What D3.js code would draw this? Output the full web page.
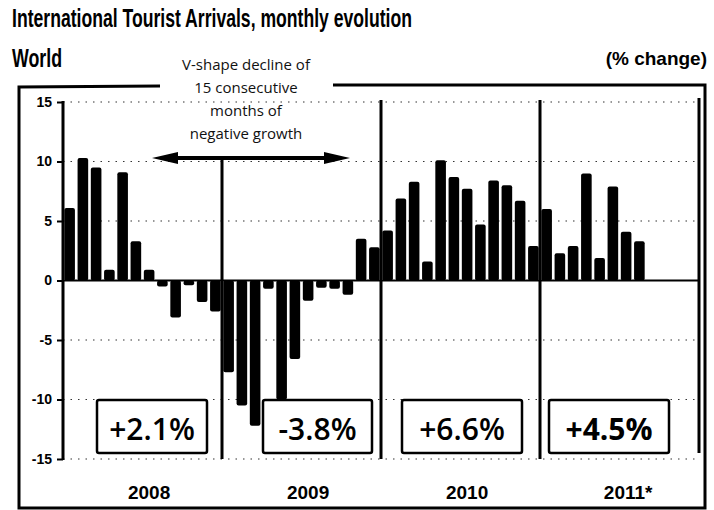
<!DOCTYPE html>
<html><head><meta charset="utf-8">
<script src="https://cdn.jsdelivr.net/npm/d3@7"></script>
<style>body{margin:0;background:#fff}svg{display:block}</style>
</head><body>
<script>
// ---- data ----
const years = ["2008", "2009", "2010", "2011*"];
const values2008 = [6.1, 10.3, 9.5, 0.9, 9.1, 3.3, 0.9, -0.5, -3.1, -0.4, -1.8, -2.6];
const values2009 = [-7.7, -10.5, -12.2, -0.7, -10.0, -6.6, -1.7, -0.6, -0.7, -1.2, 3.5, 2.8];
const values2010 = [4.2, 6.9, 8.3, 1.6, 10.1, 8.7, 7.7, 4.7, 8.4, 8.0, 6.7, 2.9];
const values2011 = [6.0, 2.3, 2.9, 9.0, 1.9, 7.9, 4.1, 3.3];
const yearTotals = ["+2.1%", "-3.8%", "+6.6%", "+4.5%"];
const yTicks = [15, 10, 5, 0, -5, -10, -15];
const annotationLines = ["V-shape decline of", "15 consecutive", "months of", "negative growth"];
const title = "International Tourist Arrivals, monthly evolution";
const subtitleLeft = "World";
const subtitleRight = "(% change)";

// ---- layout ----
const W = 714, H = 510;
const months = d3.range(48);
const series = [values2008, values2009, values2010, values2011];
const bars = [];
series.forEach((arr, yi) => arr.forEach((v, m) => bars.push({i: yi * 12 + m, v})));

const svg = d3.select("body").append("svg").attr("width", W).attr("height", H);

const x = d3.scaleBand().domain(months).range([63, 699]).paddingInner(0.2).paddingOuter(0.1);
const y = d3.scaleLinear().domain([-15, 15]).range([459, 102]);
const step = x.step();
const yearStart = k => 63 + k * 12 * step;

// titles
const narrow = "'Liberation Sans Narrow','Liberation Sans',Arial,sans-serif";
svg.append("text").attr("x", 12).attr("y", 27).text(title)
  .attr("font-family", narrow).attr("font-weight", "bold").attr("font-size", 25)
  .attr("textLength", 400).attr("lengthAdjust", "spacingAndGlyphs");
svg.append("text").attr("x", 12).attr("y", 67).text(subtitleLeft)
  .attr("font-family", narrow).attr("font-weight", "bold").attr("font-size", 25)
  .attr("textLength", 50).attr("lengthAdjust", "spacingAndGlyphs");
svg.append("text").attr("x", 707).attr("y", 65).attr("text-anchor", "end").text(subtitleRight)
  .attr("font-family", narrow).attr("font-weight", "bold").attr("font-size", 19);

// outer frame
svg.append("path")
  .attr("d", "M160,86 L19,87 L19,508 L705,508 L705,85 L333,85")
  .attr("fill", "none").attr("stroke", "#000").attr("stroke-width", 3);

// annotation text
svg.append("g").selectAll("text").data(annotationLines).join("text")
  .attr("x", 246).attr("y", (d, i) => 70 + i * 23)
  .attr("text-anchor", "middle")
  .attr("font-family", "'Open Sans',Lato,sans-serif").attr("font-size", 15)
  .attr("fill", "#111").text(d => d);

// gridlines (dotted)
svg.append("g").selectAll("line").data(yTicks.filter(d => d !== 0)).join("line")
  .attr("x1", 63).attr("x2", 699).attr("y1", d => y(d)).attr("y2", d => y(d))
  .attr("stroke", "#333").attr("stroke-width", 1.2).attr("stroke-dasharray", "1.5,6");

// bars
svg.append("g").selectAll("rect").data(bars).join("rect")
  .attr("x", d => x(d.i)).attr("width", x.bandwidth())
  .attr("y", d => y(Math.max(0, d.v))).attr("height", d => Math.abs(y(d.v) - y(0)))
  .attr("rx", 2).attr("fill", "#000");

// zero line
svg.append("line").attr("x1", 63).attr("x2", 699).attr("y1", y(0)).attr("y2", y(0))
  .attr("stroke", "#000").attr("stroke-width", 2);

// y axis
const yAxis = d3.axisLeft(y).tickValues(yTicks).tickSize(6).tickPadding(5).tickFormat(d => String(d));
const ga = svg.append("g").attr("transform", "translate(63,0)").call(yAxis);
ga.select(".domain").remove();
ga.selectAll(".tick line").attr("stroke", "#000").attr("stroke-width", 2);
ga.selectAll(".tick text").attr("font-family", narrow)
  .attr("font-weight", "bold").attr("font-size", 14).attr("fill", "#000");
svg.append("line").attr("x1", 63).attr("x2", 63).attr("y1", y(15) - 1).attr("y2", y(-15) + 1)
  .attr("stroke", "#000").attr("stroke-width", 3);

// year dividers
const dividerTops = [158, y(15) - 2, y(15) - 2, y(15) - 4];
[1, 2, 3, 4].forEach((k, j) => {
  svg.append("line").attr("x1", yearStart(k)).attr("x2", yearStart(k))
    .attr("y1", dividerTops[j]).attr("y2", y(-15) - (k === 4 ? 6 : 0))
    .attr("stroke", "#000").attr("stroke-width", 3);
});

// double arrow
const ay = 158, ax1 = 152, ax2 = 350;
svg.append("line").attr("x1", ax1 + 10).attr("x2", ax2 - 10).attr("y1", ay).attr("y2", ay)
  .attr("stroke", "#000").attr("stroke-width", 4);
svg.append("path").attr("d", `M${ax1},${ay} L${ax1 + 26},${ay - 6} L${ax1 + 26},${ay + 6} Z`).attr("fill", "#000");
svg.append("path").attr("d", `M${ax2},${ay} L${ax2 - 26},${ay - 6} L${ax2 - 26},${ay + 6} Z`).attr("fill", "#000");

// year total boxes
const boxOffsets = [9.5, 16, 1.5, -10.5];
const boxWidths = [110, 109, 120, 120];
const gb = svg.append("g").selectAll("g").data(yearTotals).join("g")
  .attr("transform", (d, k) => `translate(${(yearStart(k) + yearStart(k + 1)) / 2 + boxOffsets[k]},0)`);
gb.append("rect").attr("x", (d, k) => -boxWidths[k] / 2).attr("width", (d, k) => boxWidths[k])
  .attr("y", 400).attr("height", 53).attr("rx", 2)
  .attr("fill", "#fff").attr("stroke", "#000").attr("stroke-width", 2.5);
gb.append("text").attr("x", 0).attr("y", 440).attr("text-anchor", "middle")
  .attr("font-family", "'Open Sans',Lato,sans-serif").attr("font-size", 30)
  .attr("font-weight", (d, k) => k === 3 ? 700 : 600).attr("fill", "#000").text(d => d);

// year labels (centered on the 7th month)
svg.append("g").selectAll("text").data(years).join("text")
  .attr("x", (d, k) => x(k * 12 + 6) + x.bandwidth() / 2 + (k === 3 ? 2 : 0)).attr("y", 499)
  .attr("text-anchor", "middle")
  .attr("font-family", narrow).attr("font-weight", "bold").attr("font-size", 19)
  .text(d => d);
</script>
</body></html>
